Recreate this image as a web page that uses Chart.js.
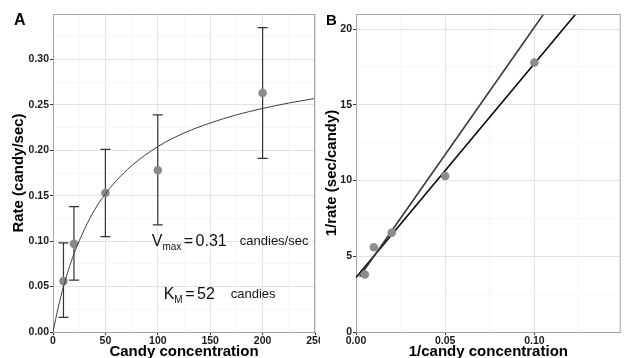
<!DOCTYPE html>
<html><head><meta charset="utf-8">
<script src="https://cdn.jsdelivr.net/npm/chart.js@4/dist/chart.umd.min.js"></script>
<style>
html,body{margin:0;padding:0;background:#fff;overflow:hidden;width:625px;height:358px}
#wa{position:absolute;left:0;top:0;width:330px;height:358px}
#wb{position:absolute;left:320px;top:0;width:305px;height:358px;background:#fff}
canvas{display:block}
</style></head><body>
<div id="wa"><canvas id="ca" width="330" height="358"></canvas></div>
<div id="wb"><canvas id="cb" width="305" height="358"></canvas></div>
<script>
// ---------- Panel A data ----------
const concA = [10, 20, 50, 100, 200];
const rateA = [0.056, 0.097, 0.153, 0.178, 0.263];
const rateLowA = [0.016, 0.057, 0.105, 0.118, 0.191];
const rateHighA = [0.098, 0.138, 0.201, 0.239, 0.335];
const fitConcA = [0, 5, 10, 15, 20, 30, 40, 50, 60, 75, 100, 125, 150, 175, 200, 225, 250];
const fitRateA = [0, 0.027, 0.050, 0.069, 0.086, 0.113, 0.135, 0.152, 0.166, 0.183, 0.204, 0.219, 0.230, 0.239, 0.246, 0.252, 0.257];
const xTicksA = [0, 50, 100, 150, 200, 250];
const xTickLabelsA = ['0', '50', '100', '150', '200', '250'];
const xMinorA = [25, 75, 125, 175, 225];
const yTicksA = [0, 0.05, 0.10, 0.15, 0.20, 0.25, 0.30];
const yTickLabelsA = ['0.00', '0.05', '0.10', '0.15', '0.20', '0.25', '0.30'];
const yMinorA = [0.025, 0.075, 0.125, 0.175, 0.225, 0.275, 0.325];
const annoTextA = [['V', 'max', '=', '0.31', 'candies/sec'], ['K', 'M', '=', '52', 'candies']];
const annoXA = [130, 130];
const annoUnitXA = [211, 191];
const annoYA = [0.10, 0.0415];

// ---------- Panel B data ----------
const invConcB = [0.005, 0.01, 0.02, 0.05, 0.1];
const invRateB = [3.8, 5.6, 6.55, 10.3, 17.8];
const lineB1X = [0, 0.1232];
const lineB1Y = [3.6, 21];
const lineB2X = [0.002, 0.1052];
const lineB2Y = [3.65, 21];
const xTicksB = [0, 0.05, 0.10];
const xTickLabelsB = ['0.00', '0.05', '0.10'];
const xMinorB = [0.025, 0.075, 0.125];
const yTicksB = [0, 5, 10, 15, 20];
const yTickLabelsB = ['0', '5', '10', '15', '20'];
const yMinorB = [2.5, 7.5, 12.5, 17.5];

const FONT = 'Liberation Sans, Arial, Helvetica, sans-serif';
Chart.defaults.font.family = FONT;
Chart.defaults.color = '#1a1a1a';

function near(v, list) { return list.some(t => Math.abs(t - v) < 1e-9); }
function labelFor(v, vals, labs) { const i = vals.findIndex(t => Math.abs(t - v) < 1e-9); return i >= 0 ? labs[i] : ''; }
function pts(xs, ys) { return xs.map((x, i) => ({x: x, y: ys[i]})); }

function axis(opts) {
  const {min, max, major, minor, labels, title, pos, fit, titlePad, titleFont} = opts;
  return {
    type: 'linear', position: pos, min: min, max: max,
    afterBuildTicks: s => { s.ticks = major.concat(minor).sort((a, b) => a - b).map(v => ({value: v})); },
    afterFit: fit,
    grid: {
      color: c => near(c.tick.value, major) ? '#e3e3e3' : '#f1f1f1',
      lineWidth: c => near(c.tick.value, major) ? 1 : 0.6,
      tickColor: c => near(c.tick.value, major) ? '#333' : 'rgba(0,0,0,0)',
      tickLength: 3, drawTicks: true
    },
    border: {display: true, color: '#a6a6a6', width: 1},
    ticks: {
      autoSkip: false, maxRotation: 0, minRotation: 0, padding: pos === 'left' ? 1 : 0,
      color: '#1a1a1a', font: {size: 10.5, weight: 'bold', family: FONT},
      callback: v => labelFor(v, major, labels)
    },
    title: {display: true, text: title, color: '#000', font: titleFont, padding: titlePad}
  };
}

const frame = {
  id: 'frame',
  afterDraw(chart, args, o) {
    const {ctx, chartArea: a} = chart;
    ctx.save();
    ctx.strokeStyle = '#a6a6a6'; ctx.lineWidth = 1;
    ctx.beginPath();
    ctx.moveTo(a.left, a.top + 0.5); ctx.lineTo(a.right, a.top + 0.5);
    ctx.moveTo(a.right - 0.5, a.top); ctx.lineTo(a.right - 0.5, a.bottom);
    ctx.stroke();
    ctx.fillStyle = '#000';
    ctx.font = 'bold ' + o.size + 'px ' + FONT;
    ctx.textBaseline = 'alphabetic';
    ctx.fillText(o.label, o.x, 25);
    ctx.restore();
  }
};

const errBars = {
  id: 'errBars',
  beforeDatasetsDraw(chart) {
    const {ctx} = chart; const xs = chart.scales.x, ys = chart.scales.y;
    ctx.save();
    ctx.strokeStyle = '#333'; ctx.lineWidth = 1.2;
    concA.forEach((c, i) => {
      const px = xs.getPixelForValue(c);
      const lo = ys.getPixelForValue(rateLowA[i]), hi = ys.getPixelForValue(rateHighA[i]);
      ctx.beginPath();
      ctx.moveTo(px, lo); ctx.lineTo(px, hi);
      ctx.moveTo(px - 5, lo); ctx.lineTo(px + 5, lo);
      ctx.moveTo(px - 5, hi); ctx.lineTo(px + 5, hi);
      ctx.stroke();
    });
    ctx.restore();
  },
  afterDraw(chart) {
    const {ctx} = chart; const xs = chart.scales.x, ys = chart.scales.y;
    ctx.save();
    ctx.fillStyle = '#111';
    ctx.textBaseline = 'alphabetic';
    const big = '16px ' + FONT, sub = '10px ' + FONT, unit = '13px ' + FONT;
    const gap = 2.5;
    annoTextA.forEach((t, i) => {
      ctx.font = big; const w1 = ctx.measureText(t[0]).width;
      ctx.font = sub; const w2 = ctx.measureText(t[1]).width;
      ctx.font = big; const w3 = ctx.measureText(t[2]).width; const w4 = ctx.measureText(t[3]).width;
      const total = w1 + w2 + gap + w3 + gap + w4;
      const cx = xs.getPixelForValue(annoXA[i]);
      const by = ys.getPixelForValue(annoYA[i]) + 5;
      let x = cx - total / 2;
      ctx.font = big; ctx.fillText(t[0], x, by); x += w1;
      ctx.font = sub; ctx.fillText(t[1], x, by + 4); x += w2 + gap;
      ctx.font = big; ctx.fillText(t[2], x, by); x += w3 + gap;
      ctx.fillText(t[3], x, by);
      ctx.font = unit; ctx.textAlign = 'center';
      ctx.fillText(t[4], xs.getPixelForValue(annoUnitXA[i]), by - 1);
      ctx.textAlign = 'left';
    });
    ctx.restore();
  }
};

const titleFont = {size: 15, weight: 'bold', family: FONT, lineHeight: 0.8};
const yTitleFont = {size: 15, weight: 'bold', family: FONT, lineHeight: 1.2};

new Chart(document.getElementById('ca'), {
  type: 'scatter',
  data: {datasets: [
    {data: pts(fitConcA, fitRateA), showLine: true, borderColor: '#3d3d3d', borderWidth: 1, pointRadius: 0, cubicInterpolationMode: 'monotone', fill: false},
    {data: pts(concA, rateA), showLine: false, pointRadius: 4.3, pointBackgroundColor: '#8a8a8a', pointBorderWidth: 0, borderColor: '#8a8a8a'}
  ]},
  options: {
    responsive: false, animation: false, devicePixelRatio: 1, events: [],
    layout: {padding: {top: 14, right: 15, bottom: 0, left: 0}},
    plugins: {legend: {display: false}, tooltip: {enabled: false}, frame: {label: 'A', x: 14, size: 16}},
    scales: {
      x: axis({min: 0, max: 250, major: xTicksA, minor: xMinorA, labels: xTickLabelsA, title: 'Candy concentration', pos: 'bottom', fit: s => { s.height = 26; }, titlePad: 0, titleFont: titleFont}),
      y: axis({min: 0, max: 0.35, major: yTicksA, minor: yMinorA, labels: yTickLabelsA, title: 'Rate (candy/sec)', pos: 'left', fit: s => { s.width = 53; }, titlePad: {top: 9.5, bottom: 0}, titleFont: yTitleFont})
    }
  },
  plugins: [frame, errBars]
});

new Chart(document.getElementById('cb'), {
  type: 'scatter',
  data: {datasets: [
    {data: pts(invConcB, invRateB), showLine: false, pointRadius: 4.3, pointBackgroundColor: '#8c8c8c', pointBorderWidth: 0, borderColor: '#8c8c8c'},
    {data: pts(lineB2X, lineB2Y), showLine: true, borderColor: '#3a3a3a', borderWidth: 1.6, pointRadius: 0},
    {data: pts(lineB1X, lineB1Y), showLine: true, borderColor: '#0a0a0a', borderWidth: 1.6, pointRadius: 0}
  ]},
  options: {
    responsive: false, animation: false, devicePixelRatio: 1, events: [],
    layout: {padding: {top: 14, right: 0, bottom: 0, left: 0}},
    plugins: {legend: {display: false}, tooltip: {enabled: false}, frame: {label: 'B', x: 6, size: 15}},
    scales: {
      x: axis({min: 0, max: 0.1484, major: xTicksB, minor: xMinorB, labels: xTickLabelsB, title: '1/candy concentration', pos: 'bottom', fit: s => { s.height = 26; }, titlePad: 0, titleFont: titleFont}),
      y: axis({min: 0, max: 21, major: yTicksB, minor: yMinorB, labels: yTickLabelsB, title: '1/rate (sec/candy)', pos: 'left', fit: s => { s.width = 36; }, titlePad: {top: 2.5, bottom: 0}, titleFont: yTitleFont})
    }
  },
  plugins: [frame]
});
</script>
</body></html>
